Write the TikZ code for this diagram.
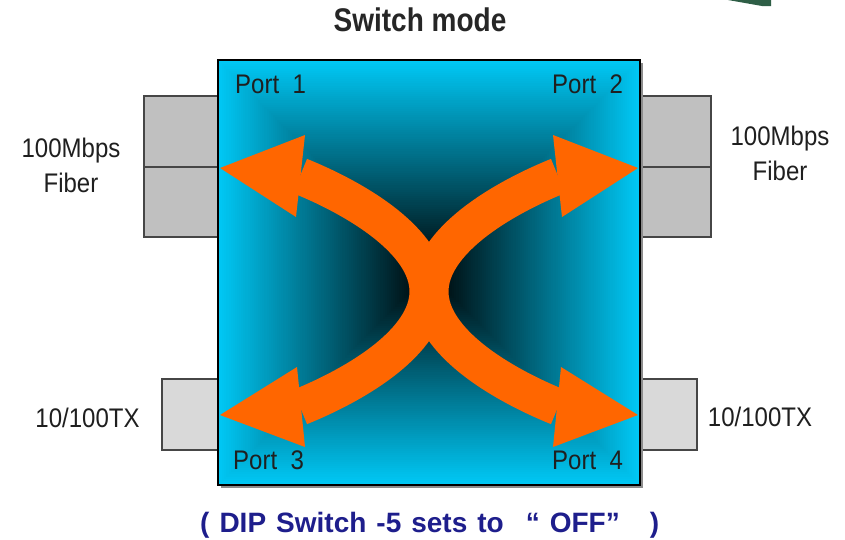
\documentclass[tikz,border=0pt]{standalone}
\usepackage{fontspec}
\setmainfont{Liberation Sans}
\usepackage{graphicx}
\usetikzlibrary{calc}
\definecolor{cyanA}{RGB}{0,200,245}
\definecolor{orangeA}{RGB}{255,102,0}
\definecolor{navyA}{RGB}{30,30,140}
\definecolor{fibgray}{RGB}{192,192,192}
\definecolor{txgray}{RGB}{217,217,217}
\definecolor{edgegray}{RGB}{70,70,70}
\definecolor{greenA}{RGB}{46,94,70}
\newcommand{\vstretch}[2]{\scalebox{1}[#1]{#2}}
\tikzset{
  lbl/.style={inner sep=0pt, font=\fontsize{24}{31.25}\selectfont, text=black!88},
  portbox/.style={draw=edgegray, line width=1.5pt},
  shaft/.style={draw=orangeA, line width=37pt, line cap=butt},
  head/.style={fill=orangeA},
}
\begin{document}
\begin{tikzpicture}[x=1pt,y=-1pt]
\useasboundingbox (0,0) rectangle (845,539);
\fill[white] (0,0) rectangle (845,539);

% green sliver at top right
\fill[greenA] (728,0) -- (771,0) -- (771,6) -- (762,6) -- (745,3) -- cycle;

% port boxes
\draw[portbox, fill=fibgray] (144,96) rectangle (218,237);
\draw[portbox] (144,167) -- (218,167);
\draw[portbox, fill=fibgray] (640,96) rectangle (711,237);
\draw[portbox] (640,167) -- (711,167);
\draw[portbox, fill=txgray] (162,379) rectangle (218,450);
\draw[portbox, fill=txgray] (640,379) rectangle (697,450);

% shadow of switch
\fill[black!45] (221,63) rectangle (643,488);
% pyramid gradient
\foreach \i in {0,...,99} {
  \pgfmathsetmacro\dx{\i*2.11}
  \pgfmathsetmacro\dy{\i*2.125}
  \pgfmathtruncatemacro\p{100-\i}
  \fill[cyanA!\p!black] (218+\dx,60+\dy) rectangle (640-\dx,485-\dy);
}
\node[draw=black, line width=2pt, minimum width=422pt, minimum height=425pt, inner sep=0pt] (sw) at (429,272.5) {};

% arrow tips and shaft ends
\coordinate (p1) at (220,168);
\coordinate (p2) at (638,168);
\coordinate (p3) at (220,415);
\coordinate (p4) at (638,415);
\coordinate (b1) at (300,176);
\coordinate (b3) at (300,407);
\coordinate (b2) at (558,176);
\coordinate (b4) at (558,407);
\coordinate (mL) at (428,291.5);
\coordinate (mR) at (430,291.5);

% shafts
\draw[shaft] (b1) .. controls (355.6,198.5) and (428,241) .. (mL)
              .. controls (428,342) and (355.6,384.5) .. (b3);
\draw[shaft] (b2) .. controls (502.4,198.5) and (430,241) .. (mR)
              .. controls (430,342) and (502.4,384.5) .. (b4);
% heads
\fill[head] (p1) -- ($(p1)+(85,-33)$) -- ($(p1)+(76,49)$) -- cycle;
\fill[head] (p3) -- ($(p3)+(77,-48)$) -- ($(p3)+(85,32)$) -- cycle;
\fill[head] (p2) -- ($(p2)+(-85,-33)$) -- ($(p2)+(-76,49)$) -- cycle;
\fill[head] (p4) -- ($(p4)+(-77,-48)$) -- ($(p4)+(-85,32)$) -- cycle;

% port labels
\node[lbl, anchor=base west] (port1) at (235,93) {\vstretch{1.12}{Port\ \ 1}};
\node[lbl, anchor=base west] (port2) at (552,93) {\vstretch{1.12}{Port\ \ 2}};
\node[lbl, anchor=base west] (port3) at (233,469) {\vstretch{1.12}{Port\ \ 3}};
\node[lbl, anchor=base west] (port4) at (552,469) {\vstretch{1.12}{Port\ \ 4}};

% side labels
\node[lbl, anchor=base] (fibL) at (71,157) {\vstretch{1.12}{\begin{tabular}[t]{@{}c@{}}100Mbps\\Fiber\end{tabular}}};
\node[lbl, anchor=base] (fibR) at (780,145) {\vstretch{1.12}{\begin{tabular}[t]{@{}c@{}}100Mbps\\Fiber\end{tabular}}};
\node[lbl, anchor=base] (txL) at (87.5,427) {\vstretch{1.12}{10/100TX}};
\node[lbl, anchor=base] (txR) at (760,426) {\vstretch{1.12}{10/100TX}};

% title
\node[inner sep=0pt, anchor=base, font=\fontsize{28}{32}\selectfont\bfseries, text=black!85] (title) at (420,31.7) {\vstretch{1.17}{Switch mode}};

% bottom note
\node[inner sep=0pt, anchor=base west, font=\fontsize{28}{32}\selectfont\bfseries, text=navyA] (note) at (200,532)
  {\spaceskip=10pt( DIP Switch -5 sets to\hspace{22pt}“ OFF”\hspace{30pt})};
\end{tikzpicture}
\end{document}
